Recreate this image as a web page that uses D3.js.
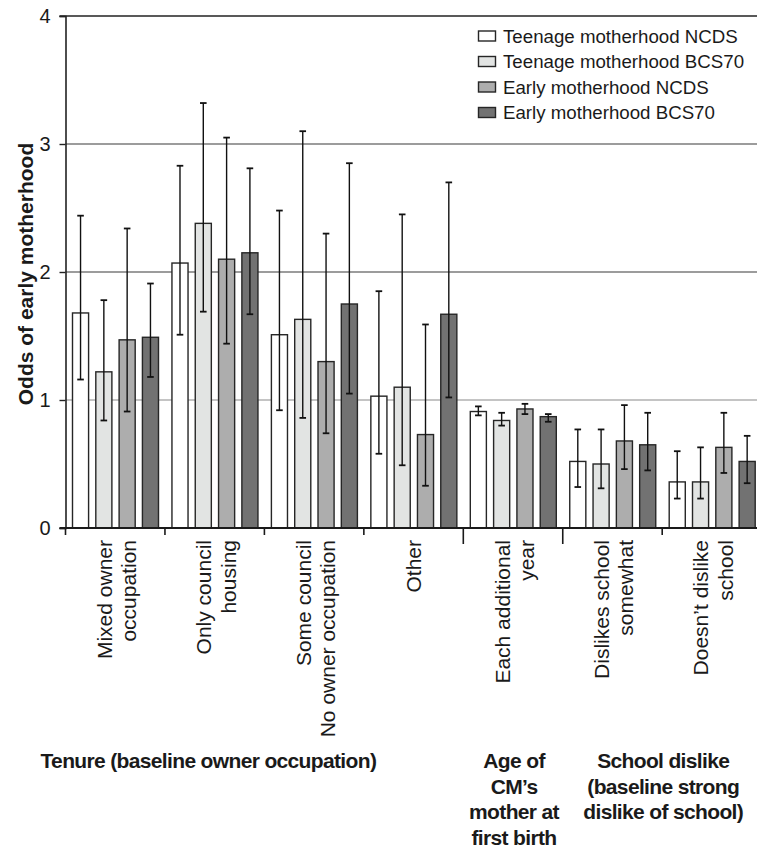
<!DOCTYPE html>
<html>
<head>
<meta charset="utf-8">
<script src="https://cdn.jsdelivr.net/npm/d3@7/dist/d3.min.js"></script>
<style>
  html, body { margin: 0; padding: 0; background: #fff; }
  svg { display: block; }
  text { font-family: "Liberation Sans", Arial, Helvetica, sans-serif; fill: #1a1a1a; }
</style>
</head>
<body>
<svg id="chart" width="757" height="848"></svg>
<script>
// Odds ratios of early motherhood with 95% confidence intervals
const series = [
  "Teenage motherhood NCDS",
  "Teenage motherhood BCS70",
  "Early motherhood NCDS",
  "Early motherhood BCS70"
];
const categories = [
  ["Mixed owner", "occupation"],
  ["Only council", "housing"],
  ["Some council", "No owner occupation"],
  ["Other"],
  ["Each additional", "year"],
  ["Dislikes school", "somewhat"],
  ["Doesn\u2019t dislike", "school"]
];
const teenNCDS   = [1.68, 2.07, 1.51, 1.03, 0.91, 0.52, 0.36];
const teenBCS70  = [1.22, 2.38, 1.63, 1.10, 0.84, 0.50, 0.36];
const earlyNCDS  = [1.47, 2.10, 1.30, 0.73, 0.93, 0.68, 0.63];
const earlyBCS70 = [1.49, 2.15, 1.75, 1.67, 0.87, 0.65, 0.52];

const lowTeenNCDS   = [1.16, 1.51, 0.92, 0.58, 0.88, 0.32, 0.23];
const lowTeenBCS70  = [0.84, 1.69, 0.86, 0.49, 0.80, 0.31, 0.23];
const lowEarlyNCDS  = [0.91, 1.44, 0.74, 0.33, 0.89, 0.46, 0.43];
const lowEarlyBCS70 = [1.18, 1.67, 1.05, 1.02, 0.83, 0.45, 0.35];

const highTeenNCDS   = [2.44, 2.83, 2.48, 1.85, 0.95, 0.77, 0.60];
const highTeenBCS70  = [1.78, 3.32, 3.10, 2.45, 0.90, 0.77, 0.63];
const highEarlyNCDS  = [2.34, 3.05, 2.30, 1.59, 0.97, 0.96, 0.90];
const highEarlyBCS70 = [1.91, 2.81, 2.85, 2.70, 0.89, 0.90, 0.72];

const yTicks = [0, 1, 2, 3, 4];
const fills = ["#ffffff", "#e2e4e3", "#adadad", "#727272"];

// Variable groups shown under the category labels
const groupTitles = [
  ["Tenure (baseline owner occupation)"],
  ["Age of", "CM\u2019s", "mother at", "first birth"],
  ["School dislike", "(baseline strong", "dislike of school)"]
];
const groupSpans = [[0, 3], [4, 4], [5, 6]];

const values = [teenNCDS, teenBCS70, earlyNCDS, earlyBCS70];
const lows = [lowTeenNCDS, lowTeenBCS70, lowEarlyNCDS, lowEarlyBCS70];
const highs = [highTeenNCDS, highTeenBCS70, highEarlyNCDS, highEarlyBCS70];

const rows = [];
categories.forEach((c, ci) => {
  series.forEach((s, si) => {
    rows.push({ cat: ci, ser: si, v: values[si][ci], lo: lows[si][ci], hi: highs[si][ci] });
  });
});

const svg = d3.select("#chart");
const W = 757;
const plotLeft = 65.5, plotBottom = 528, plotTop = 16;

const y = d3.scaleLinear().domain([0, 4]).range([plotBottom, plotTop]);
const x0 = d3.scaleBand().domain(d3.range(categories.length))
  .range([plotLeft, plotLeft + 7 * 99.45]).paddingInner(0).paddingOuter(0);
const x1 = d3.scaleBand().domain(d3.range(series.length))
  .range([7, 93]).paddingInner(0.31).paddingOuter(0);

// gridlines
svg.append("g").selectAll("line").data([1, 2, 3]).join("line")
  .attr("x1", plotLeft).attr("x2", W)
  .attr("y1", d => y(d)).attr("y2", d => y(d))
  .attr("stroke", d => d === 1 ? "#8a8a8a" : "#3a3a3a")
  .attr("stroke-width", 1.2);

// top frame line
svg.append("line")
  .attr("x1", plotLeft - 6).attr("x2", W)
  .attr("y1", y(4)).attr("y2", y(4))
  .attr("stroke", "#222").attr("stroke-width", 1.6);

// bars
svg.append("g").selectAll("rect").data(rows).join("rect")
  .attr("x", d => x0(d.cat) + x1(d.ser))
  .attr("width", x1.bandwidth())
  .attr("y", d => y(d.v))
  .attr("height", d => y(0) - y(d.v))
  .attr("fill", d => fills[d.ser])
  .attr("stroke", "#262626")
  .attr("stroke-width", 1.4);

// error bars
const eb = svg.append("g").attr("stroke", "#111").attr("stroke-width", 1.4);
const cx = d => x0(d.cat) + x1(d.ser) + x1.bandwidth() / 2;
eb.selectAll("line.v").data(rows).join("line").attr("class", "v")
  .attr("x1", cx).attr("x2", cx)
  .attr("y1", d => y(d.lo)).attr("y2", d => y(d.hi));
eb.selectAll("line.h").data(rows).join("line").attr("class", "h")
  .attr("x1", d => cx(d) - 3.3).attr("x2", d => cx(d) + 3.3)
  .attr("y1", d => y(d.hi)).attr("y2", d => y(d.hi)).attr("stroke-width", 1.8);
eb.selectAll("line.l").data(rows).join("line").attr("class", "l")
  .attr("x1", d => cx(d) - 3.3).attr("x2", d => cx(d) + 3.3)
  .attr("y1", d => y(d.lo)).attr("y2", d => y(d.lo)).attr("stroke-width", 1.8);

// y axis
const yAxis = svg.append("g").attr("transform", `translate(${plotLeft},0)`)
  .call(d3.axisLeft(y).tickValues(yTicks).tickFormat(d3.format("d")).tickSize(6).tickPadding(9));
yAxis.select(".domain").attr("stroke", "#222").attr("stroke-width", 1.6);
yAxis.selectAll(".tick line").attr("stroke", "#222").attr("stroke-width", 1.4);
yAxis.selectAll(".tick text")
  .style("font-family", "'Liberation Sans', Arial, sans-serif")
  .style("font-size", "20px").attr("fill", "#1a1a1a");

// x axis baseline
svg.append("line")
  .attr("x1", plotLeft - 6).attr("x2", W)
  .attr("y1", plotBottom).attr("y2", plotBottom)
  .attr("stroke", "#1a1a1a").attr("stroke-width", 2);

// category boundary ticks (longer ones separate the variable groups)
const boundaries = d3.range(categories.length).map(i => ({ i, x: x0(i) }));
const groupStarts = groupSpans.map(g => g[0]).filter(v => v > 0);
svg.append("g").selectAll("line").data(boundaries).join("line")
  .attr("x1", d => d.x).attr("x2", d => d.x)
  .attr("y1", plotBottom).attr("y2", d => groupStarts.includes(d.i) ? plotBottom + 16 : plotBottom + 7)
  .attr("stroke", "#1a1a1a").attr("stroke-width", 1.6);

// category labels, rotated
const catG = svg.append("g");
categories.forEach((lines, ci) => {
  const c = x0(ci) + x0.bandwidth() / 2;
  const n = lines.length;
  lines.forEach((t, li) => {
    const off = n === 1 ? 0 : (li === 0 ? -11 : 13.5);
    catG.append("text")
      .attr("transform", `translate(${c + off},540) rotate(-90)`)
      .attr("text-anchor", "end")
      .attr("dominant-baseline", "central")
      .style("font-size", "21px")
      .text(t);
  });
});

// group titles
const gtG = svg.append("g");
groupTitles.forEach((lines, gi) => {
  const span = groupSpans[gi];
  let gx, anchor;
  if (gi === 0) { gx = x0(span[0]) - 25; anchor = "start"; }
  else { gx = (x0(span[0]) + x0(span[1]) + x0.bandwidth()) / 2 + 1; anchor = "middle"; }
  lines.forEach((t, li) => {
    gtG.append("text")
      .attr("x", gx).attr("y", 768 + li * 25.7)
      .attr("text-anchor", anchor)
      .style("font-size", "21px").style("font-weight", "bold")
      .style("letter-spacing", "-0.65px")
      .text(t);
  });
});

// y axis title
svg.append("text")
  .attr("transform", `translate(33,274) rotate(-90)`)
  .attr("text-anchor", "middle")
  .style("font-size", "21px").style("font-weight", "bold")
  .text("Odds of early motherhood");

// legend
const lg = svg.append("g").attr("transform", "translate(478,36)");
series.forEach((s, i) => {
  const row = lg.append("g").attr("transform", `translate(0,${i * 25.5})`);
  row.append("rect").attr("x", 0.5).attr("y", -5).attr("width", 17).attr("height", 10)
    .attr("fill", fills[i]).attr("stroke", "#262626").attr("stroke-width", 1.4);
  row.append("text").attr("x", 25).attr("y", 0)
    .attr("dominant-baseline", "central")
    .style("font-size", "18.7px")
    .text(s);
});
</script>
</body>
</html>
